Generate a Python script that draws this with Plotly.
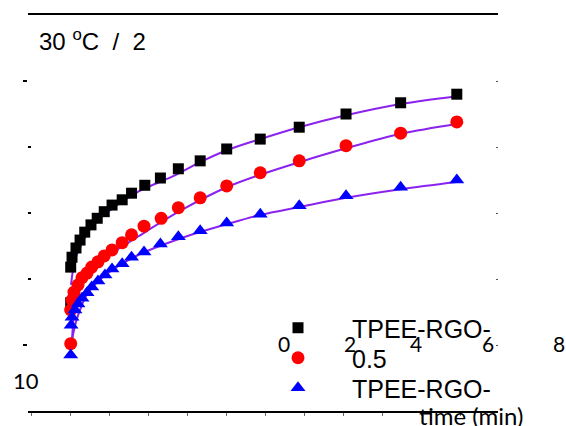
import plotly.graph_objects as go

# ---------------- data (time in min, signal in axis units) ----------------
t_black = [0.0, 0.0, 0.017, 0.068, 0.12, 0.18, 0.26, 0.34, 0.43, 0.53, 0.66,
           0.78, 0.95, 1.15, 1.38, 1.66, 2.0, 2.43, 2.93, 3.53, 4.23, 4.95]
y_black = [0.64, 1.18, 1.33, 1.47, 1.59, 1.71, 1.82, 1.92, 2.02, 2.12, 2.20,
           2.30, 2.42, 2.53, 2.67, 2.79, 2.97, 3.12, 3.30, 3.50, 3.67, 3.80]

t_red = [0.0, 0.0, 0.017, 0.042, 0.094, 0.145, 0.21, 0.27, 0.35, 0.43, 0.53, 0.66,
         0.78, 0.94, 1.16, 1.38, 1.66, 2.0, 2.43, 2.93, 3.53, 4.23, 4.95]
y_red = [0.02, 0.53, 0.68, 0.80, 0.91, 1.02, 1.09, 1.18, 1.26, 1.35, 1.44, 1.55,
         1.67, 1.80, 1.92, 2.08, 2.23, 2.41, 2.61, 2.79, 3.02, 3.21, 3.38]

t_blue = [0.0, 0.005, 0.017, 0.055, 0.094, 0.145, 0.21, 0.27, 0.35, 0.44, 0.53, 0.66,
          0.78, 0.94, 1.15, 1.38, 1.66, 2.0, 2.43, 2.93, 3.53, 4.23, 4.95]
y_blue = [-0.15, 0.30, 0.42, 0.53, 0.62, 0.71, 0.79, 0.88, 0.97, 1.06, 1.15, 1.23,
          1.33, 1.41, 1.53, 1.64, 1.73, 1.85, 1.98, 2.11, 2.26, 2.39, 2.50]

fit_t_black = [0.004, 0.055, 0.12, 0.27, 0.48, 0.86, 1.30, 1.66, 2.0, 2.43, 2.93, 3.53, 4.23, 4.95]
fit_y_black = [0.91, 1.29, 1.48, 1.79, 2.02, 2.32, 2.55, 2.77, 2.95, 3.12, 3.30, 3.48, 3.65, 3.77]

fit_t_red = [0.017, 0.055, 0.12, 0.21, 0.44, 0.86, 1.43, 2.0, 2.43, 2.93, 3.53, 4.23, 4.95]
fit_y_red = [0.08, 0.58, 0.86, 1.06, 1.32, 1.64, 2.05, 2.39, 2.58, 2.77, 2.98, 3.20, 3.35]

fit_t_blue = [0.017, 0.068, 0.145, 0.22, 0.48, 0.86, 1.47, 2.0, 2.43, 2.93, 3.53, 4.23, 4.95]
fit_y_blue = [0.08, 0.35, 0.61, 0.79, 1.09, 1.36, 1.64, 1.83, 1.97, 2.09, 2.23, 2.36, 2.47]

names = ["TPEE-RGO-", "0.5", "TPEE-RGO-"]
stray_tick_labels = ["0", "2", "4", "6", "8"]
x_ticks = [-0.5, 0, 0.5, 1, 1.5, 2, 2.5, 3, 3.5, 4, 4.5, 5]
y_major = [0, 4]
y_minor = [1, 2, 3]
y_right = [0, 1, 2, 3, 4]

# ---------------- layout helpers ----------------
W, H = 566, 426
L, R, T, B = 28, 498, 15, 411


def px_x(p):
    return (p - L) / (R - L)


def px_y(p):
    return (B - p) / (B - T)


FIT_COLOR = "#8b22ee"
ARIAL = "Liberation Sans, Arial, sans-serif"
CAL = "Lato, Carlito, sans-serif"

fig = go.Figure()

for tt, yy in [(fit_t_black, fit_y_black), (fit_t_red, fit_y_red), (fit_t_blue, fit_y_blue)]:
    fig.add_trace(go.Scatter(x=tt, y=yy, mode="lines", showlegend=False,
                             line=dict(color=FIT_COLOR, width=2, shape="spline"),
                             hoverinfo="skip"))

fig.add_trace(go.Scatter(x=t_black, y=y_black, mode="markers", name=names[0], legend="legend",
                         marker=dict(symbol="square", size=11, color="black")))
fig.add_trace(go.Scatter(x=t_red, y=y_red, mode="markers", name=names[1], legend="legend2",
                         marker=dict(symbol="circle", size=13, color="#ff0000")))
fig.add_trace(go.Scatter(x=t_blue, y=y_blue, mode="markers", name=names[2], legend="legend3",
                         marker=dict(symbol="triangle-up", size=13, color="#0000ff")))
# right-hand tick dots
fig.add_trace(go.Scatter(x=[None], y=[None], yaxis="y2", showlegend=False))

annotations = [
    dict(text="30 <sup>o</sup>C \u00a0/\u00a0 2", x=px_x(37), y=px_y(40), xref="paper", yref="paper",
         xanchor="left", yanchor="middle", showarrow=False,
         font=dict(family=ARIAL, size=24, color="black")),
    dict(text="10", x=px_x(26), y=px_y(380), xref="paper", yref="paper",
         xanchor="center", yanchor="middle", showarrow=False,
         font=dict(family=CAL, size=22, color="black")),
    dict(text="time (min)", x=px_x(417), y=px_y(416), xref="paper", yref="paper",
         xanchor="left", yanchor="middle", showarrow=False,
         font=dict(family=CAL, size=24, color="black")),
]
label_px = [284, 350, 416, 488, 559]
for lab, p in zip(stray_tick_labels, label_px):
    annotations.append(dict(text=lab, x=px_x(p), y=px_y(343), xref="paper", yref="paper",
                            xanchor="center", yanchor="middle", showarrow=False,
                            font=dict(family=CAL, size=21, color="black")))


def leg(row_y):
    return dict(x=px_x(244), y=px_y(row_y), xanchor="left", yanchor="middle",
                bgcolor="rgba(0,0,0,0)", borderwidth=0, itemwidth=98,
                font=dict(family=ARIAL, size=25, color="black"))


fig.update_layout(
    width=W, height=H,
    margin=dict(l=L, r=W - R, t=T, b=H - B, pad=0, autoexpand=False),
    paper_bgcolor="white", plot_bgcolor="white",
    showlegend=True,
    legend=leg(328), legend2=leg(358), legend3=leg(388),
    xaxis=dict(range=[(L - 70.7) / 78, (R - 70.7) / 78], showgrid=False, zeroline=False,
               showline=True, mirror=True, linecolor="black", linewidth=2,
               tickvals=x_ticks, ticks="outside", ticklen=3, tickwidth=1, tickcolor="#666",
               showticklabels=False),
    yaxis=dict(range=[(345 - B) / 66, (345 - T) / 66], showgrid=False, zeroline=False,
               showline=False, tickvals=y_major, ticks="outside", ticklen=4, tickwidth=2,
               tickcolor="black", showticklabels=False,
               minor=dict(tickvals=y_minor, ticks="inside", ticklen=3, tickwidth=1.5,
                          tickcolor="black")),
    yaxis2=dict(overlaying="y", side="right", matches="y", showgrid=False, zeroline=False,
                showline=False, tickvals=y_right, ticks="inside", ticklen=2, tickwidth=1,
                tickcolor="#555", showticklabels=False),
    annotations=annotations,
)

fig.write_html("out.html", config={"displayModeBar": False},
               post_script="document.body.style.margin='0';document.body.style.overflow='hidden';")
